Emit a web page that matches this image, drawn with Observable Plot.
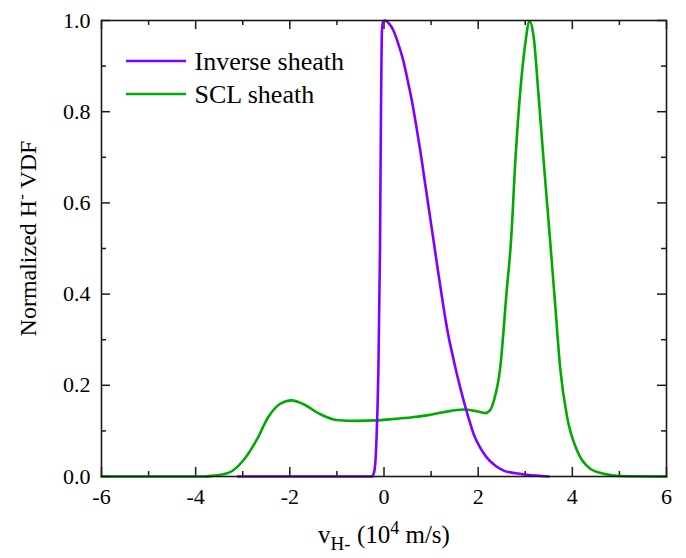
<!DOCTYPE html>
<html><head><meta charset="utf-8">
<script src="https://cdn.jsdelivr.net/npm/d3@7"></script>
<script src="https://cdn.jsdelivr.net/npm/@observablehq/plot@0.6"></script>
<style>
body{margin:0;background:#fff}
#chart{width:686px;height:558px}
#chart svg, #chart svg text, #chart svg tspan { font-family: "Liberation Serif", "Times New Roman", serif !important; }
</style>
</head><body><div id="chart"></div>
<script>
// Inverse sheath H- VDF (velocity in 1e4 m/s, normalized value)
const inverseV = [-3.1, -1.5, -0.5, -0.25, -0.2, -0.16, -0.12, -0.085, -0.064, -0.043, -0.02, 0.02, 0.1, 0.2, 0.3, 0.41, 0.5, 0.59, 0.68, 0.77, 0.86, 0.94, 1.0, 1.06, 1.16, 1.26, 1.36, 1.47, 1.58, 1.69, 1.8, 1.9, 2.04, 2.18, 2.36, 2.54, 2.8, 3.04, 3.5];
const inverseF = [0, 0, 0, 0, 0.015, 0.08, 0.23, 0.5, 0.8, 0.978, 0.997, 1.0, 0.994, 0.978, 0.950, 0.912, 0.870, 0.825, 0.772, 0.715, 0.652, 0.596, 0.554, 0.512, 0.442, 0.374, 0.313, 0.26, 0.211, 0.167, 0.127, 0.094, 0.064, 0.042, 0.024, 0.013, 0.007, 0.004, 0];
// SCL sheath H- VDF
const sclV = [-6, -3.8, -3.6, -3.28, -2.99, -2.71, -2.46, -2.21, -1.96, -1.72, -1.36, -1.01, -0.58, -0.16, 0.2, 0.6, 0.91, 1.26, 1.69, 1.97, 2.15, 2.25, 2.33, 2.47, 2.6, 2.7, 2.79, 2.89, 3.0, 3.09, 3.18, 3.28, 3.39, 3.53, 3.64, 3.74, 3.89, 4.1, 4.38, 4.67, 5.0, 6];
const sclF = [0, 0, 0.002, 0.009, 0.035, 0.079, 0.13, 0.159, 0.167, 0.159, 0.137, 0.124, 0.122, 0.123, 0.126, 0.13, 0.134, 0.141, 0.147, 0.143, 0.139, 0.145, 0.165, 0.24, 0.4, 0.52, 0.693, 0.839, 0.949, 0.998, 0.963, 0.839, 0.693, 0.515, 0.371, 0.24, 0.13, 0.057, 0.017, 0.006, 0.001, 0];

const seriesNames = ["Inverse sheath", "SCL sheath"];
const seriesColors = ["#8000ff", "#00aa00"];

const xTicks = [-6, -4, -2, 0, 2, 4, 6];
const xMinor = [-5, -3, -1, 1, 3, 5];
const yTicks = [0, 0.2, 0.4, 0.6, 0.8, 1.0];
const yMinor = [0.1, 0.3, 0.5, 0.7, 0.9];

const xTitle = "vH- (104 m/s)";
const yTitle = "Normalized H- VDF";

const inverse = inverseV.map((v, i) => ({v, f: inverseF[i]}));
const scl = sclV.map((v, i) => ({v, f: sclF[i]}));

const W = 686, H = 558;
const mL = 101, mR = 20, mT = 20, mB = 82;
const pW = W - mL - mR, pH = H - mT - mB;
const majorLen = 9, minorLen = 5;
const axisColor = "#1a1a1a";
const serif = "Liberation Serif, Times New Roman, serif";

const plot = Plot.plot({
  width: W, height: H,
  marginLeft: mL, marginRight: mR, marginTop: mT, marginBottom: mB,
  style: {fontFamily: serif, fontSize: "22px", color: "#000", background: "#fff"},
  x: {domain: [-6, 6]},
  y: {domain: [0, 1]},
  marks: [
    Plot.axisX(xTicks, {anchor: "bottom", tickSize: 0, tickPadding: 12, tickFormat: d => String(d), label: null, fontSize: 22, fontFamily: serif}),
    Plot.axisY(yTicks, {anchor: "left", tickSize: 0, tickPadding: 11, tickFormat: d3.format(".1f"), label: null, fontSize: 22, fontFamily: serif}),
    // inward ticks, bottom & top
    Plot.tickX(xTicks, {x: d => d, insetTop: pH - majorLen, stroke: axisColor, strokeWidth: 1.5}),
    Plot.tickX(xTicks, {x: d => d, insetBottom: pH - majorLen, stroke: axisColor, strokeWidth: 1.5}),
    Plot.tickX(xMinor, {x: d => d, insetTop: pH - minorLen, stroke: axisColor, strokeWidth: 1.5}),
    Plot.tickX(xMinor, {x: d => d, insetBottom: pH - minorLen, stroke: axisColor, strokeWidth: 1.5}),
    // inward ticks, left & right
    Plot.tickY(yTicks, {y: d => d, insetRight: pW - majorLen, stroke: axisColor, strokeWidth: 1.5}),
    Plot.tickY(yTicks, {y: d => d, insetLeft: pW - majorLen, stroke: axisColor, strokeWidth: 1.5}),
    Plot.tickY(yMinor, {y: d => d, insetRight: pW - minorLen, stroke: axisColor, strokeWidth: 1.5}),
    Plot.tickY(yMinor, {y: d => d, insetLeft: pW - minorLen, stroke: axisColor, strokeWidth: 1.5}),
    Plot.line(scl, {x: "v", y: "f", stroke: seriesColors[1], strokeWidth: 2.6, curve: "monotone-x"}),
    Plot.line(inverse, {x: "v", y: "f", stroke: seriesColors[0], strokeWidth: 2.6, curve: "monotone-x"}),
    Plot.frame({stroke: axisColor, strokeWidth: 1.6}),
    Plot.text([xTitle], {frameAnchor: "bottom", dy: 58, fontSize: 25, fontFamily: serif, text: d => d, textAnchor: "middle", lineAnchor: "middle"}),
    Plot.text([yTitle], {frameAnchor: "left", dx: -73, dy: -10, rotate: -90, fontSize: 24, fontFamily: serif, text: d => d, textAnchor: "middle", lineAnchor: "middle"}),
    Plot.text([seriesNames[0]], {frameAnchor: "top-left", dx: 93, dy: 41, text: d => d, textAnchor: "start", fontSize: 26, fontFamily: serif, lineAnchor: "middle"}),
    Plot.text([seriesNames[1]], {frameAnchor: "top-left", dx: 93, dy: 74, text: d => d, textAnchor: "start", fontSize: 26, fontFamily: serif, lineAnchor: "middle"})
  ]
});

const svg = d3.select(plot).attr("font-family", serif);
// Legend swatches
seriesNames.forEach((name, i) => {
  svg.append("line").attr("x1", 126).attr("x2", 186).attr("y1", 61 + i * 33).attr("y2", 61 + i * 33)
    .attr("stroke", seriesColors[i]).attr("stroke-width", 2.6);
});
// Rich text for axis titles
svg.selectAll("text").filter(function() { return this.textContent === xTitle; }).each(function() {
  const t = d3.select(this); t.text(null);
  t.append("tspan").text("v");
  t.append("tspan").attr("dy", 7).attr("font-size", 19).text("H-");
  t.append("tspan").attr("dy", -7).text(" (10");
  t.append("tspan").attr("dy", -9).attr("font-size", 18).text("4");
  t.append("tspan").attr("dy", 9).text(" m/s)");
});
svg.selectAll("text").filter(function() { return this.textContent === yTitle; }).each(function() {
  const t = d3.select(this); t.text(null);
  t.append("tspan").text("Normalized H");
  t.append("tspan").attr("dy", -9).attr("font-size", 17).text("-");
  t.append("tspan").attr("dy", 9).text(" VDF");
});
document.getElementById("chart").appendChild(plot);
</script>
</body></html>
